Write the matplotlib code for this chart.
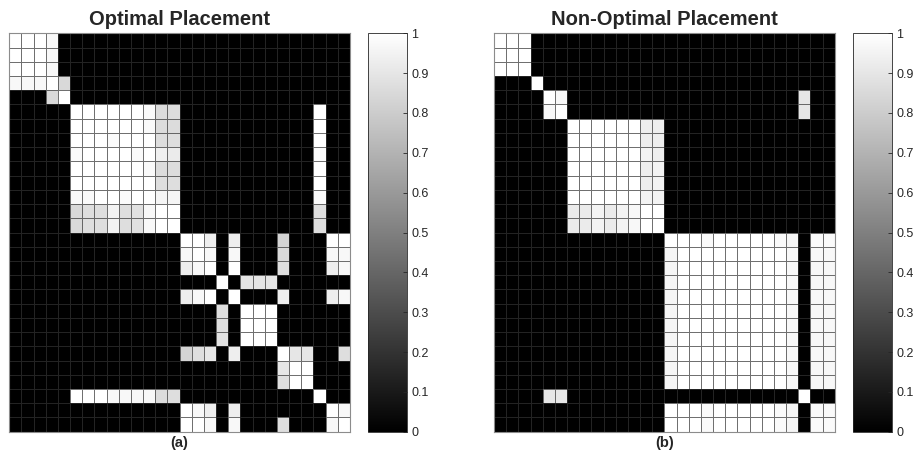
import numpy as np
import matplotlib
matplotlib.use("Agg")
import matplotlib.pyplot as plt

plt.rcParams['font.family'] = ['Liberation Sans', 'DejaVu Sans']

# 28 x 28 similarity matrices
z = [0]

optimal = [
    [1, 1, 1, .97] + z * 24,
    [1, 1, 1, .97] + z * 24,
    [1, 1, 1, .97] + z * 24,
    [.97, .97, .97, 1, .85] + z * 23,
    [0, 0, 0, .85, 1] + z * 23,
    z * 5 + [1, 1, 1, 1, 1, 1, .98, .86, .86] + z * 11 + [1] + z * 2,
    z * 5 + [1, 1, 1, 1, 1, 1, .98, .86, .86] + z * 11 + [1] + z * 2,
    z * 5 + [1, 1, 1, .98, 1, 1, 1, .87, .87] + z * 11 + [1] + z * 2,
    z * 5 + [.98, 1, 1, 1, 1, .98, 1, .94, .92] + z * 11 + [.98] + z * 2,
    z * 5 + [1, 1, 1, 1, 1, 1, .98, .86, .86] + z * 11 + [1] + z * 2,
    z * 5 + [1, 1, 1, 1, 1, 1, 1, .87, .87] + z * 11 + [1] + z * 2,
    z * 5 + [.98, .98, 1, 1, .98, 1, 1, .96, .96] + z * 11 + [.98] + z * 2,
    z * 5 + [.85, .87, .87, .95, .87, .88, .97, 1, 1] + z * 11 + [.87] + z * 2,
    z * 5 + [.85, .87, .87, .95, .87, .88, .97, 1, 1] + z * 11 + [.87] + z * 2,
    z * 14 + [1, 1, .93, 0, .93, 0, 0, 0, .83, 0, 0, 0, 1, 1],
    z * 14 + [.97, 1, .97, 0, .97, 0, 0, 0, .85, 0, 0, 0, .97, .97],
    z * 14 + [.93, .97, 1, 0, 1, 0, 0, 0, .87, 0, 0, 0, .93, .97],
    z * 14 + [0, 0, 0, 1, 0, .9, .9, .9, 0, 0, 0, 0, 0, 0],
    z * 14 + [.93, .97, 1, 0, 1, 0, 0, 0, .93, 0, 0, 0, .93, .97],
    z * 14 + [0, 0, 0, .87, 0, 1, 1, 1, 0, 0, 0, 0, 0, 0],
    z * 14 + [0, 0, 0, .87, 0, 1, 1, 1, 0, 0, 0, 0, 0, 0],
    z * 14 + [0, 0, 0, .88, 0, 1, 1, 1, 0, 0, 0, 0, 0, 0],
    z * 14 + [.83, .87, .9, 0, .93, 0, 0, 0, 1, .9, .9, 0, 0, .87],
    z * 14 + [0, 0, 0, 0, 0, 0, 0, 0, .9, 1, 1, 0, 0, 0],
    z * 14 + [0, 0, 0, 0, 0, 0, 0, 0, .87, 1, 1, 0, 0, 0],
    z * 5 + [1, 1, 1, .97, .97, .97, .97, .86, .87] + z * 11 + [1] + z * 2,
    z * 14 + [1, .97, .93, 0, .93, 0, 0, 0, 0, 0, 0, 0, 1, .97],
    z * 14 + [1, 1, .97, 0, .97, 0, 0, 0, .87, 0, 0, 0, .97, 1],
]

big_row = [1, 1, 1, .98, 1, 1, 1, 1, 1, .98, .96, 0, .98, .98]
big_row2 = [.96, 1, 1, 1, 1, 1, 1, 1, 1, 1, .97, 0, .97, .97]

non_optimal = [
    [1, 1, 1] + z * 25,
    [1, 1, 1] + z * 25,
    [1, 1, 1] + z * 25,
    [0, 0, 0, 1] + z * 24,
    z * 4 + [1, .97] + z * 19 + [.9] + z * 2,
    z * 4 + [.97, 1] + z * 19 + [.9] + z * 2,
    z * 6 + [1, 1, 1, 1, 1, 1, .93, .93] + z * 14,
    z * 6 + [1, 1, 1, 1, 1, 1, .93, .93] + z * 14,
    z * 6 + [1, 1, 1, 1, 1, 1, .95, .93] + z * 14,
    z * 6 + [1, 1, 1, 1, 1, 1, .93, .95] + z * 14,
    z * 6 + [1, 1, 1, 1, 1, 1, .93, .95] + z * 14,
    z * 6 + [1, 1, 1, 1, 1, 1, .95, .95] + z * 14,
    z * 6 + [.92, .92, .95, .92, .95, .97, 1, 1] + z * 14,
    z * 6 + [.92, .92, .95, .92, .95, .97, 1, 1] + z * 14,
    z * 14 + big_row,
    z * 14 + big_row2,
    z * 14 + big_row2,
    z * 14 + big_row2,
    z * 14 + big_row2,
    z * 14 + big_row2,
    z * 14 + big_row2,
    z * 14 + big_row2,
    z * 14 + big_row2,
    z * 14 + big_row2,
    z * 14 + big_row2,
    z * 4 + [.9, .9] + z * 19 + [1] + z * 2,
    z * 14 + big_row,
    z * 14 + big_row,
]

titles = ["Optimal Placement", "Non-Optimal Placement"]
labels = ["(a)", "(b)"]
cbar_ticks = [0, .1, .2, .3, .4, .5, .6, .7, .8, .9, 1]

W, H = 923, 454
fig = plt.figure(figsize=(W / 100, H / 100), dpi=100)

lefts = [9.3, 494.0]
cb_lefts = [368.3, 853.0]
top, bottom = 33.3, 431.7
txt = '#262626'

for i, mat in enumerate([optimal, non_optimal]):
    data = np.array(mat, dtype=float)
    ax = fig.add_axes([lefts[i] / W, 1 - bottom / H, 340.7 / W, (bottom - top) / H])
    mesh = ax.pcolormesh(data, cmap='gray', vmin=0, vmax=1,
                         edgecolors=(0.2, 0.2, 0.2, 0.7), linewidth=0.7)
    ax.set_xlim(0, data.shape[1])
    ax.set_ylim(data.shape[0], 0)
    ax.set_xticks([])
    ax.set_yticks([])
    for s in ax.spines.values():
        s.set_color('#8c8c8c')
        s.set_linewidth(0.8)
    ax.set_title(titles[i], fontsize=14.5, fontweight='bold', pad=6, color=txt)
    ax.text(0.5, -0.012, labels[i], transform=ax.transAxes, ha='center', va='top',
            fontsize=10.5, fontweight='bold', color=txt)

    cax = fig.add_axes([cb_lefts[i] / W, 1 - bottom / H, 39 / W, (bottom - top) / H])
    cb = fig.colorbar(mesh, cax=cax)
    cb.set_ticks(cbar_ticks)
    cb.set_ticklabels(['%g' % t for t in cbar_ticks])
    cb.ax.tick_params(direction='in', length=3, width=0.6, labelsize=9,
                      colors=txt, pad=3)
    cb.outline.set_edgecolor(txt)
    cb.outline.set_linewidth(0.6)

fig.savefig("out.png", dpi=100)
